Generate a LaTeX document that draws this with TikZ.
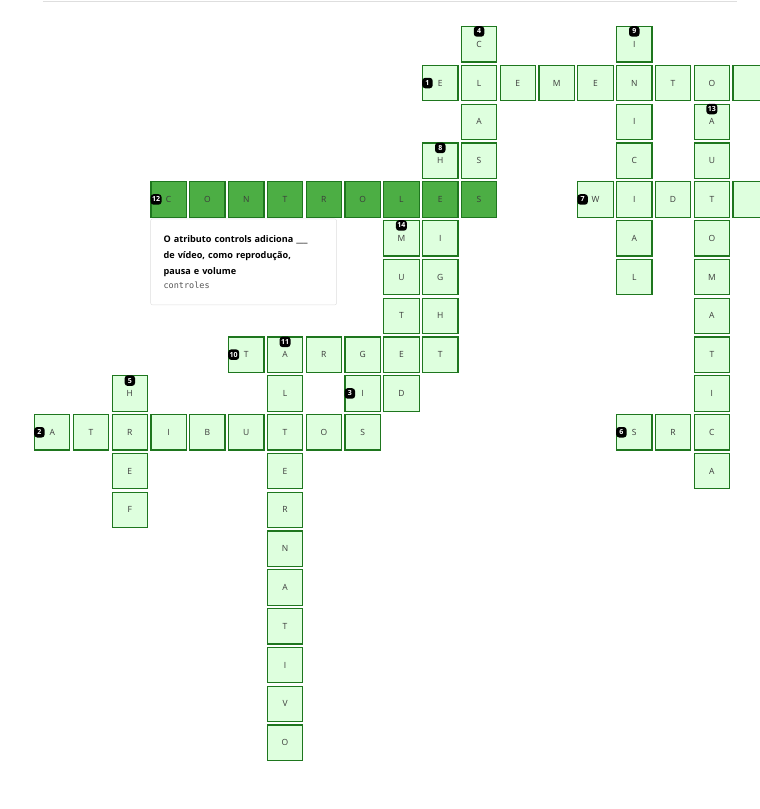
\documentclass[tikz,border=0pt]{standalone}
\usepackage{fontspec}
\setmainfont{Open Sans}
\setmonofont{DejaVu Sans Mono}
\definecolor{cellgreen}{RGB}{222,255,222}
\definecolor{darkgreen}{RGB}{30,118,30}
\definecolor{activegreen}{RGB}{76,174,68}
\definecolor{lettergray}{RGB}{60,60,60}
\definecolor{cluegray}{RGB}{222,222,222}
\definecolor{codegray}{RGB}{85,85,85}

\begin{document}
\begin{tikzpicture}[x=38.8pt,y=-38.8pt,
  cell/.style={draw=darkgreen,fill=cellgreen,line width=1.2pt,minimum size=35.3pt,inner sep=0pt,text=lettergray,font=\fontsize{8.5}{8.5}\selectfont},
  active/.style={cell,fill=activegreen},
  numtag/.style={fill=black,text=white,rounded corners=3pt,minimum height=10.5pt,minimum width=10.5pt,inner xsep=1.5pt,inner ysep=0pt,font=\fontsize{7}{7}\selectfont\bfseries},
  numacross/.style={numtag,anchor=west},
  numdown/.style={numtag,anchor=north},
  cluebox/.style={draw=cluegray,fill=white,rounded corners=2pt,text width=160pt,inner xsep=13pt,minimum height=86pt,align=left,font=\fontsize{9.1}{16}\selectfont\bfseries}]
  \useasboundingbox (-1.3466,-1.1405) rectangle (18.241,19.710);
  \clip (-1.3466,-1.1405) rectangle (18.241,19.710);
  % top border line:
  \draw[cluegray,line width=1pt] (-0.2384,-1.1147) -- (17.648,-1.1147);
  % cells:
  \foreach \c/\r/\l in {11/0/C, 15/0/I,
      10/1/E, 11/1/L, 12/1/E, 13/1/M, 14/1/E, 15/1/N, 16/1/T, 17/1/O, 18/1/{},
      11/2/A, 15/2/I, 17/2/A,
      10/3/H, 11/3/S, 15/3/C, 17/3/U,
      14/4/W, 15/4/I, 16/4/D, 17/4/T, 18/4/{},
      9/5/M, 10/5/I, 15/5/A, 17/5/O,
      9/6/U, 10/6/G, 15/6/L, 17/6/M,
      9/7/T, 10/7/H, 17/7/A,
      5/8/T, 6/8/A, 7/8/R, 8/8/G, 9/8/E, 10/8/T, 17/8/T,
      2/9/H, 6/9/L, 8/9/I, 9/9/D, 17/9/I,
      15/10/S, 16/10/R, 17/10/C, 17/11/A,
      2/11/E, 6/11/E, 2/12/F, 6/12/R,
      6/13/N, 6/14/A, 6/15/T, 6/16/I, 6/17/V, 6/18/O}
    \node[cell] (K\c-\r) at (\c,\r) {\l};
  \foreach \l [count=\i from 0] in {A,T,R,I,B,U,T,O,S}
    \node[cell] (K\i-10) at (\i,10) {\l};
  % selected word:
  \foreach \l [count=\i from 3] in {C,O,N,T,R,O,L,E,S}
    \node[active] (K\i-4) at (\i,4) {\l};
  % numbers:
  \foreach \n/\c/\r in {1/10/1, 12/3/4, 7/14/4, 10/5/8, 3/8/9, 2/0/10, 6/15/10}
    \node[numacross] (N\n) at (K\c-\r.west) {\n};
  \foreach \n/\c/\r in {4/11/0, 9/15/0, 13/17/2, 8/10/3, 14/9/5, 11/6/8, 5/2/9}
    \node[numdown] (N\n) at (K\c-\r.north) {\n};
  % clue:
  \node[cluebox,anchor=north west] (clue) at ([yshift=-1pt]K3-4.south west)
    {O atributo controls adiciona \_\_\_\\de vídeo, como reprodução,\\pausa e volume\\[-2pt]{\ttfamily\mdseries\fontsize{8.5}{14}\selectfont\color{codegray}controles}};
\end{tikzpicture}
\end{document}
